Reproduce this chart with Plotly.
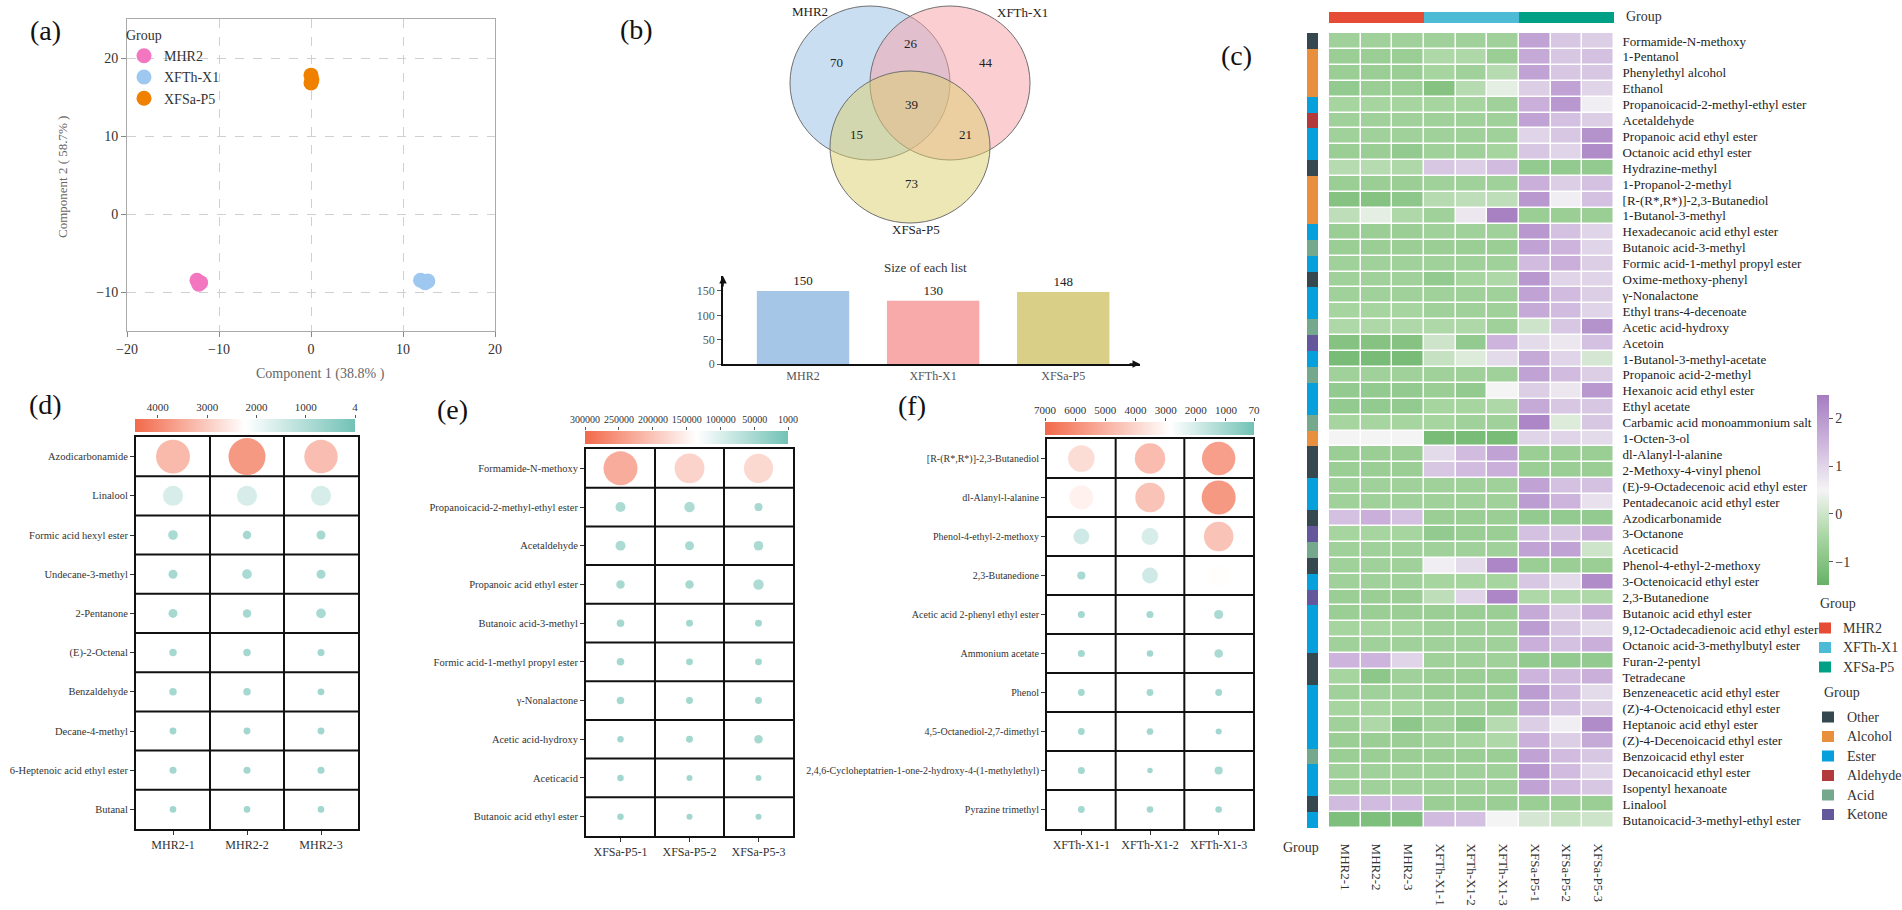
import math
import plotly.graph_objects as go

W, H = 1902, 910
def px(x): return x / W
def py(y): return 1 - y / H

SERIF = "Liberation Serif"
INK = "#222222"

# ---------------- data ----------------
# (a) PCA scores
pca_groups = ["MHR2", "XFTh-X1", "XFSa-P5"]
pca_x = {"MHR2": [-12.4, -12.0, -12.2], "XFTh-X1": [11.9, 12.4, 12.7], "XFSa-P5": [0.0, 0.1, 0.0]}
pca_y = {"MHR2": [-8.5, -8.8, -9.0], "XFTh-X1": [-8.5, -8.8, -8.6], "XFSa-P5": [17.8, 17.2, 16.8]}
pca_colors = ["#f277c0", "#9ec8ef", "#ef8000"]

# (b) Venn + list sizes
venn_sets = ["MHR2", "XFTh-X1", "XFSa-P5"]
venn_counts = [70, 26, 44, 39, 15, 21, 73]   # MHR2, MHR2&XFTh, XFTh, all, MHR2&XFSa, XFTh&XFSa, XFSa
list_sizes = [150, 130, 148]
bar_colors = ["#a6c6e8", "#f8a9a9", "#d9cf86"]

# (c) heatmap
samples = ["MHR2-1", "MHR2-2", "MHR2-3", "XFTh-X1-1", "XFTh-X1-2", "XFTh-X1-3",
           "XFSa-P5-1", "XFSa-P5-2", "XFSa-P5-3"]
sample_group = ["MHR2", "MHR2", "MHR2", "XFTh-X1", "XFTh-X1", "XFTh-X1",
                "XFSa-P5", "XFSa-P5", "XFSa-P5"]
group_colors = ["#e64b35", "#4dbbd5", "#00a087"]
compounds = [
    "Formamide-N-methoxy", "1-Pentanol", "Phenylethyl alcohol", "Ethanol",
    "Propanoicacid-2-methyl-ethyl ester", "Acetaldehyde", "Propanoic acid ethyl ester",
    "Octanoic acid ethyl ester", "Hydrazine-methyl", "1-Propanol-2-methyl",
    "[R-(R*,R*)]-2,3-Butanediol", "1-Butanol-3-methyl", "Hexadecanoic acid ethyl ester",
    "Butanoic acid-3-methyl", "Formic acid-1-methyl propyl ester", "Oxime-methoxy-phenyl",
    "γ-Nonalactone", "Ethyl trans-4-decenoate", "Acetic acid-hydroxy", "Acetoin",
    "1-Butanol-3-methyl-acetate", "Propanoic acid-2-methyl", "Hexanoic acid ethyl ester",
    "Ethyl acetate", "Carbamic acid monoammonium salt", "1-Octen-3-ol", "dl-Alanyl-l-alanine",
    "2-Methoxy-4-vinyl phenol", "(E)-9-Octadecenoic acid ethyl ester",
    "Pentadecanoic acid ethyl ester", "Azodicarbonamide", "3-Octanone", "Aceticacid",
    "Phenol-4-ethyl-2-methoxy", "3-Octenoicacid ethyl ester", "2,3-Butanedione",
    "Butanoic acid ethyl ester", "9,12-Octadecadienoic acid ethyl ester",
    "Octanoic acid-3-methylbutyl ester", "Furan-2-pentyl", "Tetradecane",
    "Benzeneacetic acid ethyl ester", "(Z)-4-Octenoicacid ethyl ester",
    "Heptanoic acid ethyl ester", "(Z)-4-Decenoicacid ethyl ester", "Benzoicacid ethyl ester",
    "Decanoicacid ethyl ester", "Isopentyl hexanoate", "Linalool",
    "Butanoicacid-3-methyl-ethyl ester"]
compound_class = [
    "Other", "Alcohol", "Alcohol", "Alcohol", "Ester", "Aldehyde", "Ester", "Ester",
    "Other", "Alcohol", "Alcohol", "Alcohol", "Ester", "Acid", "Ester", "Other",
    "Ester", "Ester", "Acid", "Ketone", "Ester", "Acid", "Ester", "Ester", "Acid",
    "Alcohol", "Other", "Other", "Ester", "Ester", "Other", "Ketone", "Acid", "Other",
    "Ester", "Ketone", "Ester", "Ester", "Ester", "Other", "Other", "Ester", "Ester",
    "Ester", "Ester", "Acid", "Ester", "Ester", "Other", "Ester"]
class_names = ["Other", "Alcohol", "Ester", "Aldehyde", "Acid", "Ketone"]
class_colors = ["#35484f", "#e8903e", "#06a0dc", "#b33a3a", "#74a98e", "#65579c"]
hm_values = [
    [-0.6, -0.6, -0.6, -0.6, -0.6, -0.6, 1.8, 1.2, 1.1],
    [-0.7, -0.7, -0.7, -0.4, -0.4, -0.7, 1.7, 1.2, 1.3],
    [-0.7, -0.7, -0.7, -0.5, -0.6, -0.3, 1.8, 1.2, 1.2],
    [-0.8, -0.7, -0.7, -1.0, -0.3, 0.3, 1.1, 1.8, 1.0],
    [-0.5, -0.5, -0.5, -0.5, -0.5, -0.6, 1.6, 2.0, 0.6],
    [-0.6, -0.6, -0.6, -0.6, -0.6, -0.6, 1.8, 1.3, 1.1],
    [-0.6, -0.6, -0.6, -0.6, -0.6, -0.6, 1.0, 1.2, 2.1],
    [-0.7, -0.7, -0.8, -0.6, -0.6, -0.5, 1.2, 1.0, 2.2],
    [-0.3, -0.3, -0.4, 1.2, 1.1, 1.4, -0.8, -0.8, -0.8],
    [-0.7, -0.7, -0.7, -0.6, -0.6, -0.6, 1.6, 1.1, 1.3],
    [-1.0, -1.0, -0.9, -0.3, -0.2, -0.2, 2.0, 0.6, 1.3],
    [-0.2, 0.3, -0.4, -0.6, 0.7, 2.4, -0.7, -0.7, -0.7],
    [-0.7, -0.7, -0.7, -0.6, -0.6, -0.6, 2.0, 1.3, 1.0],
    [-0.7, -0.7, -0.7, -0.7, -0.7, -0.7, 1.8, 1.5, 1.0],
    [-0.6, -0.6, -0.6, -0.6, -0.6, -0.6, 1.4, 1.6, 1.1],
    [-0.6, -0.6, -0.6, -0.8, -0.5, -0.4, 2.0, 1.0, 1.0],
    [-0.6, -0.6, -0.6, -0.6, -0.6, -0.6, 1.8, 1.4, 1.1],
    [-0.5, -0.5, -0.5, -0.6, -0.6, -0.6, 1.7, 1.4, 1.0],
    [-0.4, -0.4, -0.4, -0.4, -0.4, -0.6, 0.0, 1.2, 2.1],
    [-1.0, -1.0, -1.0, 0.0, -0.8, 1.5, 0.9, 0.7, 1.3],
    [-1.2, -1.2, -1.2, -0.1, 0.2, 0.9, 1.7, 1.0, 0.1],
    [-0.6, -0.6, -0.6, -0.6, -0.6, -0.6, 1.8, 1.4, 1.1],
    [-0.8, -0.8, -0.8, -0.7, -0.8, 0.5, 1.1, 0.7, 2.0],
    [-0.8, -0.8, -0.8, -0.5, -0.5, -0.4, 1.7, 1.2, 1.2],
    [-0.5, -0.5, -0.5, -0.5, -0.6, -0.6, 2.3, 0.2, 1.2],
    [0.5, 0.5, 0.5, -1.2, -1.2, -1.2, 1.0, 1.0, 0.9],
    [-0.7, -0.7, -0.7, 0.9, 1.4, 1.8, -0.7, -0.7, -0.7],
    [-0.7, -0.7, -0.7, 1.2, 1.4, 1.6, -0.7, -0.7, -0.7],
    [-0.6, -0.6, -0.6, -0.6, -0.6, -0.6, 1.8, 1.3, 1.3],
    [-0.6, -0.6, -0.6, -0.6, -0.6, -0.6, 1.9, 1.5, 0.8],
    [1.3, 1.6, 1.3, -0.7, -0.7, -0.7, -0.8, -0.8, -0.8],
    [-0.5, -0.5, -0.5, -0.8, -0.7, -0.7, 1.3, 1.2, 1.6],
    [-0.6, -0.6, -0.6, -0.6, -0.6, -0.6, 1.8, 1.8, 0.0],
    [-0.6, -0.6, -0.6, 0.6, 0.9, 2.3, -0.7, -0.7, -0.7],
    [-0.6, -0.6, -0.6, -0.5, -0.5, -0.5, 1.2, 0.9, 2.2],
    [-0.7, -0.7, -0.7, -0.2, 1.0, 2.3, -0.4, -0.4, -0.4],
    [-0.7, -0.7, -0.7, -0.7, -0.7, -0.7, 1.7, 1.1, 1.6],
    [-0.5, -0.5, -0.5, -0.6, -0.6, -0.6, 1.9, 1.2, 0.9],
    [-0.6, -0.6, -0.6, -0.6, -0.6, -0.6, 1.6, 1.3, 1.6],
    [1.5, 1.5, 1.0, -0.6, -0.6, -0.6, -0.8, -0.8, -0.8],
    [-0.5, -0.9, -0.6, -0.7, -0.7, -0.7, 1.5, 1.4, 1.6],
    [-0.6, -0.6, -0.6, -0.7, -0.7, -0.7, 1.9, 1.4, 0.9],
    [-0.5, -0.5, -0.5, -0.6, -0.6, -0.7, 1.7, 1.3, 1.1],
    [-0.6, -0.4, -0.9, -0.6, -0.9, -0.3, 1.1, 0.6, 2.2],
    [-0.7, -0.7, -0.7, -0.6, -0.5, -0.4, 1.6, 1.1, 1.7],
    [-0.7, -0.7, -0.7, -0.7, -0.7, -0.7, 1.8, 1.4, 1.2],
    [-0.6, -0.6, -0.6, -0.6, -0.6, -0.6, 2.0, 1.4, 1.0],
    [-0.6, -0.6, -0.6, -0.6, -0.6, -0.6, 1.8, 1.4, 1.2],
    [1.4, 1.4, 1.4, -0.7, -0.7, -0.7, -0.7, -0.7, -0.7],
    [-1.1, -1.1, -1.1, 1.4, 1.3, 0.5, 0.1, -0.1, 0.0]]

# (d) MHR2 characteristic compounds
d_compounds = ["Azodicarbonamide", "Linalool", "Formic acid hexyl ester", "Undecane-3-methyl",
               "2-Pentanone", "(E)-2-Octenal", "Benzaldehyde", "Decane-4-methyl",
               "6-Heptenoic acid ethyl ester", "Butanal"]
d_samples = ["MHR2-1", "MHR2-2", "MHR2-3"]
d_values = [[3700, 4400, 3600], [1300, 1300, 1300], [300, 230, 260], [260, 300, 260],
            [260, 230, 300], [180, 180, 160], [180, 180, 150], [150, 150, 150],
            [160, 160, 160], [140, 140, 140]]

# (e) XFSa-P5 characteristic compounds
e_compounds = ["Formamide-N-methoxy", "Propanoicacid-2-methyl-ethyl ester", "Acetaldehyde",
               "Propanoic acid ethyl ester", "Butanoic acid-3-methyl",
               "Formic acid-1-methyl propyl ester", "γ-Nonalactone", "Acetic acid-hydroxy",
               "Aceticacid", "Butanoic acid ethyl ester"]
e_samples = ["XFSa-P5-1", "XFSa-P5-2", "XFSa-P5-3"]
e_values = [[265000, 205000, 195000], [23000, 25000, 15000], [23000, 18500, 21000],
            [16500, 16500, 25000], [13000, 11000, 11000], [13000, 11000, 11000],
            [13000, 11000, 11000], [9700, 11000, 16500], [9700, 8300, 8300],
            [9700, 8300, 8300]]

# (f) XFTh-X1 characteristic compounds
f_compounds = ["[R-(R*,R*)]-2,3-Butanediol", "dl-Alanyl-l-alanine", "Phenol-4-ethyl-2-methoxy",
               "2,3-Butanedione", "Acetic acid 2-phenyl ethyl ester", "Ammonium acetate", "Phenol",
               "4,5-Octanediol-2,7-dimethyl",
               "2,4,6-Cycloheptatrien-1-one-2-hydroxy-4-(1-methylethyl)", "Pyrazine trimethyl"]
f_samples = ["XFTh-X1-1", "XFTh-X1-2", "XFTh-X1-3"]
f_values = [[4200, 5500, 6650], [3400, 5200, 6900], [1500, 1700, 5200], [400, 1500, 2900],
            [300, 300, 500], [300, 250, 450], [280, 280, 280], [280, 270, 220],
            [300, 180, 400], [280, 260, 260]]

# ---------------- figure ----------------
fig = go.Figure()
L = {}
ann = []
shp = []

def axis(**kw):
    d = dict(showgrid=False, zeroline=False, showline=False, ticks="", showticklabels=False)
    d.update(kw)
    return d

def text(t, x, y, size=13, color=INK, xa="center", ya="middle", angle=0, family=SERIF):
    ann.append(dict(text=t, x=px(x), y=py(y), xref="paper", yref="paper", showarrow=False,
                    xanchor=xa, yanchor=ya, textangle=angle,
                    font=dict(family=family, size=size, color=color)))

# ---- (a) PCA
for g, c in zip(pca_groups, pca_colors):
    fig.add_trace(go.Scatter(x=pca_x[g], y=pca_y[g], mode="markers", name=g,
                             marker=dict(size=15, color=c, line=dict(width=0)),
                             xaxis="x", yaxis="y"))
tickf = dict(family=SERIF, size=14, color="#333")
L["xaxis"] = axis(domain=[px(127), px(495)], range=[-20, 20], tickvals=[-20, -10, 0, 10, 20],
                  showticklabels=True, ticks="outside", ticklen=5, tickcolor="#888",
                  showgrid=True, gridcolor="#d0d0d0", griddash="dash", showline=True,
                  mirror=True, linecolor="#aaaaaa", linewidth=1, tickfont=tickf, anchor="y")
L["yaxis"] = axis(domain=[py(331), py(19)], range=[-15, 25], tickvals=[-10, 0, 10, 20],
                  showticklabels=True, ticks="outside", ticklen=5, tickcolor="#888",
                  showgrid=True, gridcolor="#d0d0d0", griddash="dash", showline=True,
                  mirror=True, linecolor="#aaaaaa", linewidth=1, tickfont=tickf, anchor="x")
L["legend"] = dict(x=px(124), y=py(22), xanchor="left", yanchor="top",
                   bgcolor="rgba(0,0,0,0)", borderwidth=0,
                   title=dict(text="Group", font=dict(family=SERIF, size=14, color="#333")),
                   font=dict(family=SERIF, size=14, color="#333"), tracegroupgap=0)
text("Component 1 (38.8% )", 320, 374, size=14, color="#666")
text("Component 2 ( 58.7% )", 63, 177, size=13, color="#666", angle=-90)

# ---- (b) Venn diagram
venn_circles = [(870, 83, 80, 77, "rgba(150,190,230,0.5)"),
                (950, 83, 80, 77, "rgba(248,160,165,0.5)"),
                (910, 147, 80, 76, "rgba(220,208,110,0.5)")]
for cx, cy, rx, ry, fc in venn_circles:
    shp.append(dict(type="circle", xref="paper", yref="paper",
                    x0=px(cx - rx), x1=px(cx + rx), y0=py(cy + ry), y1=py(cy - ry),
                    fillcolor=fc, line=dict(color="#6f6f6f", width=1)))
venn_pos = [(836, 63), (911, 43), (986, 63), (911, 104), (856, 134), (966, 134), (911, 184)]
for cnt, (x, y) in zip(venn_counts, venn_pos):
    text(str(cnt), x, y, size=13, color=INK)
for name, (x, y) in zip(venn_sets, [(810, 12), (1022, 13), (916, 229)]):
    text(name, x, y, size=13, color=INK)

# list sizes bar chart
fig.add_trace(go.Bar(x=venn_sets, y=list_sizes, marker=dict(color=bar_colors, line=dict(width=0)),
                     width=0.71, text=list_sizes, textposition="outside", cliponaxis=False,
                     textfont=dict(family=SERIF, size=13, color=INK),
                     xaxis="x3", yaxis="y3", showlegend=False))
L["xaxis3"] = axis(domain=[px(723), px(1140)], range=[-0.615, 2.59], showline=True,
                   linecolor="#111", linewidth=1.5, showticklabels=True,
                   tickfont=dict(family=SERIF, size=12, color="#555"), anchor="y3")
L["yaxis3"] = axis(domain=[py(364), py(276)], range=[0, 180.8], tickvals=[0, 50, 100, 150],
                   showline=True, linecolor="#111", linewidth=1.5, ticks="outside", ticklen=4,
                   tickcolor="#555", showticklabels=True,
                   tickfont=dict(family=SERIF, size=12, color="#555"), anchor="x3")
ann.append(dict(x=-0.615, y=180.8, xref="x3", yref="y3", text="", showarrow=True,
                arrowhead=2, arrowsize=1, arrowwidth=1.5, arrowcolor="#111", ax=0, ay=12))
ann.append(dict(x=2.59, y=0, xref="x3", yref="y3", text="", showarrow=True,
                arrowhead=2, arrowsize=1, arrowwidth=1.5, arrowcolor="#111", ax=-12, ay=0))
text("Size of each list", 925, 267, size=13, color="#333")

# ---- (c) heatmap
hm_scale = [[0, "#66b266"], [0.25, "#a8d5a1"], [0.5, "#f4f4f4"], [0.75, "#cdb5dc"], [1, "#a57cc1"]]
fig.add_trace(go.Heatmap(z=hm_values, x=samples, y=compounds, colorscale=hm_scale,
                         zmin=-1.48, zmax=2.48, xgap=1.5, ygap=1.5, xaxis="x4", yaxis="y4",
                         colorbar=dict(x=px(1817), xanchor="left", y=py(585), yanchor="bottom",
                                       len=190 / H, lenmode="fraction", thickness=12,
                                       outlinewidth=0, xpad=0, ypad=0, tickvals=[-1, 0, 1, 2],
                                       ticks="outside", ticklen=4, tickcolor="#555",
                                       tickfont=dict(family=SERIF, size=14, color="#333"))))
L["xaxis4"] = axis(domain=[px(1329), px(1614)], showticklabels=True, tickangle=90,
                   tickmode="array", tickvals=samples,
                   ticks="outside", ticklen=12, tickcolor="rgba(0,0,0,0)",
                   tickfont=dict(family=SERIF, size=13, color="#333"), anchor="y4")
L["yaxis4"] = axis(domain=[py(828), py(33)], autorange="reversed", side="right",
                   tickmode="array", tickvals=compounds,
                   showticklabels=True, ticks="outside", ticklen=5, tickcolor="rgba(0,0,0,0)",
                   tickfont=dict(family=SERIF, size=13, color="#222"), anchor="x4")

def discrete_scale(colors):
    n = len(colors)
    out = []
    for k, c in enumerate(colors):
        out.append([k / n, c])
        out.append([(k + 1) / n, c])
    return out

grp_idx = [[pca_groups.index(g) for g in sample_group]]
fig.add_trace(go.Heatmap(z=grp_idx, x=samples, y=["Group"], colorscale=discrete_scale(group_colors),
                         zmin=-0.5, zmax=len(group_colors) - 0.5, showscale=False,
                         xaxis="x5", yaxis="y5"))
L["xaxis5"] = axis(domain=[px(1329), px(1614)], anchor="y5", visible=False)
L["yaxis5"] = axis(domain=[py(23), py(12)], anchor="x5", visible=False)
cls_idx = [[class_names.index(c)] for c in compound_class]
fig.add_trace(go.Heatmap(z=cls_idx, x=["Group"], y=compounds, colorscale=discrete_scale(class_colors),
                         zmin=-0.5, zmax=len(class_colors) - 0.5, showscale=False,
                         xaxis="x6", yaxis="y6"))
L["xaxis6"] = axis(domain=[px(1307), px(1318)], anchor="y6", visible=False)
L["yaxis6"] = axis(domain=[py(828), py(33)], anchor="x6", visible=False, autorange="reversed")
text("Group", 1624, 16, size=14, color="#333", xa="left")
text("Group", 1301, 847, size=14, color="#333")

# side legends
text("Group", 1818, 603, size=14, color="#333", xa="left")
for k, (g, c) in enumerate(zip(pca_groups, group_colors)):
    yc = 628 + k * 19.5
    shp.append(dict(type="rect", xref="paper", yref="paper", x0=px(1819), x1=px(1831),
                    y0=py(yc + 5.5), y1=py(yc - 5.5), fillcolor=c, line=dict(width=0)))
    text(g, 1841, yc, size=14, color="#333", xa="left")
text("Group", 1822, 692, size=14, color="#333", xa="left")
for k, (g, c) in enumerate(zip(class_names, class_colors)):
    yc = 717 + k * 19.5
    shp.append(dict(type="rect", xref="paper", yref="paper", x0=px(1822), x1=px(1834),
                    y0=py(yc + 5.5), y1=py(yc - 5.5), fillcolor=c, line=dict(width=0)))
    text(g, 1845, yc, size=14, color="#333", xa="left")

# ---- (d)(e)(f) bubble panels
CORAL, TEAL = "#f2694a", "#72c2b6"

def bubble_panel(comps, samps, vals, n, m, box, cb, crange, ticks, white, dmax, yfont, cbfont):
    xa, ya = "x%d" % n, "y%d" % n
    vmax = max(max(r) for r in vals)
    xs, ys, sz, col = [], [], [], []
    for i, comp in enumerate(comps):
        for j, s in enumerate(samps):
            v = vals[i][j]
            xs.append(s)
            ys.append(comp)
            sz.append(dmax * math.sqrt(v / vmax))
            col.append(-v)
    scale = [[0, CORAL], [white, "#ffffff"], [1, TEAL]]
    fig.add_trace(go.Scatter(
        x=xs, y=ys, mode="markers", xaxis=xa, yaxis=ya, showlegend=False, cliponaxis=False,
        marker=dict(size=sz, color=col, colorscale=scale, cmin=-crange[0], cmax=-crange[1],
                    line=dict(width=0), showscale=True,
                    colorbar=dict(orientation="h", x=px((cb[0] + cb[1]) / 2), xanchor="center",
                                  y=py(cb[3]), yanchor="bottom", len=(cb[1] - cb[0]) / W,
                                  lenmode="fraction", thickness=cb[3] - cb[2], outlinewidth=0,
                                  showticklabels=False, ticks="", xpad=0, ypad=0))))
    nrow = len(comps)
    L["xaxis%d" % n] = axis(domain=[px(box[0]), px(box[1])], range=[-0.5, len(samps) - 0.5],
                            showline=True, mirror=True, linecolor="#111", linewidth=2,
                            ticks="outside", ticklen=4, tickcolor="#333", showticklabels=True,
                            tickmode="array", tickvals=samps,
                            tickfont=dict(family=SERIF, size=12, color="#333"), anchor=ya)
    L["yaxis%d" % n] = axis(domain=[py(box[3]), py(box[2])], range=[nrow - 0.5, -0.5],
                            showline=True, mirror=True, linecolor="#111", linewidth=2,
                            ticks="outside", ticklen=4, tickcolor="#333", showticklabels=True,
                            tickmode="array", tickvals=comps,
                            tickfont=dict(family=SERIF, size=yfont, color="#333"), anchor=xa)
    for k in range(len(samps) - 1):
        shp.append(dict(type="line", xref=xa, yref=ya, x0=k + 0.5, x1=k + 0.5,
                        y0=-0.5, y1=nrow - 0.5, line=dict(color="#111", width=2)))
    for k in range(nrow - 1):
        shp.append(dict(type="line", xref=xa, yref=ya, x0=-0.5, x1=len(samps) - 0.5,
                        y0=k + 0.5, y1=k + 0.5, line=dict(color="#111", width=2)))
    # colorbar scale labels (high values on the left)
    fig.add_trace(go.Scatter(x=[None], y=[None], xaxis="x%d" % m, yaxis="y%d" % m,
                             showlegend=False, hoverinfo="skip"))
    L["xaxis%d" % m] = axis(domain=[px(cb[0]), px(cb[1])], range=list(crange), side="top",
                            tickmode="array", tickvals=ticks, ticktext=[str(t) for t in ticks],
                            tickangle=0, ticks="outside", ticklen=3, tickcolor="#555",
                            showticklabels=True,
                            tickfont=dict(family=SERIF, size=cbfont, color="#333"), anchor="y%d" % m)
    L["yaxis%d" % m] = axis(domain=[py(cb[3]), py(cb[2])], anchor="x%d" % m, visible=False,
                            range=[0, 1])

bubble_panel(d_compounds, d_samples, d_values, 7, 10, (136, 358, 437, 829), (135, 355, 419, 432),
             (4462, 4), [4000, 3000, 2000, 1000, 4], 0.5, 37, 10.5, 11)
bubble_panel(e_compounds, e_samples, e_values, 8, 11, (586, 793, 449, 836), (585, 788, 431, 444),
             (300000, 1000), [300000, 250000, 200000, 150000, 100000, 50000, 1000], 0.55, 34,
             10.5, 10)
bubble_panel(f_compounds, f_samples, f_values, 9, 12, (1047, 1253, 439, 829), (1045, 1254, 422, 435),
             (7000, 70), [7000, 6000, 5000, 4000, 3000, 2000, 1000, 70], 0.6, 34, 10, 11)

# ---- panel letters
for lab, x, y in [("(a)", 45, 31), ("(b)", 636, 30), ("(c)", 1236, 55),
                  ("(d)", 45, 404), ("(e)", 452, 410), ("(f)", 912, 405)]:
    text(lab, x, y, size=28, color="#111")

fig.update_layout(width=W, height=H, margin=dict(l=0, r=0, t=0, b=0), template="none",
                  paper_bgcolor="white", plot_bgcolor="white", annotations=ann, shapes=shp,
                  showlegend=True, font=dict(family=SERIF, color="#333"), **L)

fig.write_html("out.html", config={"displayModeBar": False},
               post_script="document.body.style.margin='0';document.body.style.overflow='hidden';")
